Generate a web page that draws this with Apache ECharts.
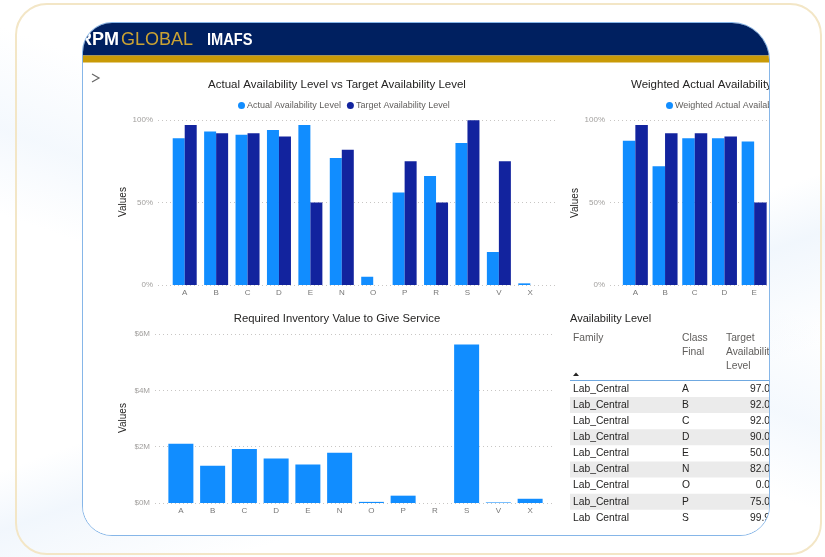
<!DOCTYPE html>
<html>
<head>
<meta charset="utf-8">
<script src="https://cdn.jsdelivr.net/npm/echarts@6/dist/echarts.min.js"></script>
<style>
  html, body { margin: 0; padding: 0; width: 825px; height: 557px; background: #ffffff; overflow: hidden; }
  #bg { position: absolute; left: 0; top: 0; width: 825px; height: 557px;
        background:
          linear-gradient(160deg, rgba(255,255,255,0) 55%, rgba(225,237,250,0.45) 62%, rgba(255,255,255,0) 75%),
          linear-gradient(20deg, rgba(255,255,255,0) 40%, rgba(228,239,251,0.4) 50%, rgba(255,255,255,0) 62%); }
  #outer { position: absolute; left: 15px; top: 3px; width: 807px; height: 552px; box-sizing: border-box;
           border: 2px solid #f3e6c6; border-radius: 32px; }
  #frame { position: absolute; left: 82px; top: 22px; width: 688px; height: 514px; box-sizing: border-box;
           border: 1px solid #86b6e8; border-radius: 30px 38px 30px 30px; overflow: hidden; background: #fff; }
  #chart { position: absolute; left: 0; top: 0; width: 686px; height: 512px; }
</style>
</head>
<body>
<div id="bg"></div>
<div id="outer"></div>
<div id="frame"><div id="chart"></div></div>
<script>
// ---------------- data ----------------
const categories = ['A', 'B', 'C', 'D', 'E', 'N', 'O', 'P', 'R', 'S', 'V', 'X'];
const actualLevel = [89, 93, 91, 94, 97, 77, 5, 56, 66, 86, 20, 1];
const targetLevel = [97, 92, 92, 90, 50, 82, 0, 75, 50, 99.9, 75, 0];

const weightedCategories = ['A', 'B', 'C', 'D', 'E'];
const weightedActual = [87.5, 72, 89, 89, 87];
const weightedTarget = [97, 92, 92, 90, 50];

const inventoryMillions = [2.10, 1.32, 1.92, 1.58, 1.37, 1.78, 0.04, 0.26, 0, 5.63, 0.02, 0.15];

const levelTicks = [0, 50, 100];          // shown as 0%, 50%, 100%
const inventoryTicks = [0, 2, 4, 6];      // shown as $0M ... $6M

const tableFamily = ['Lab_Central', 'Lab_Central', 'Lab_Central', 'Lab_Central', 'Lab_Central',
                     'Lab_Central', 'Lab_Central', 'Lab_Central', 'Lab_Central'];
const tableClass = ['A', 'B', 'C', 'D', 'E', 'N', 'O', 'P', 'S'];
const tableTarget = [97.0, 92.0, 92.0, 90.0, 50.0, 82.0, 0.0, 75.0, 99.9];

// ---------------- layout helpers ----------------
const OX = 83, OY = 23;               // page position of the chart canvas
const X = x => x - OX, Y = y => y - OY;
const FONT = '"Liberation Sans", Arial, sans-serif';
const LIGHT = '#118DFF', DARK = '#12239E';

const chart = echarts.init(document.getElementById('chart'));

const tickLabel = { fontFamily: FONT, fontSize: 8, color: '#a19f9d' };
const catLabel = { fontFamily: FONT, fontSize: 8, color: '#777777', margin: 4 };
const dotted = { show: true, lineStyle: { type: [1, 3], color: '#c8c6c4', width: 1 } };

function catAxis(gi, data) {
  return { gridIndex: gi, type: 'category', data: data, axisLine: { show: false }, axisTick: { show: false },
           axisLabel: catLabel };
}
function hiddenX(gi) { return { gridIndex: gi, type: 'value', min: 0, max: 1, show: false }; }
function hiddenY(gi, ticks) { return { gridIndex: gi, type: 'value', min: ticks[0], max: ticks[ticks.length - 1], show: false }; }
function shownY(gi, ticks, fmt) {
  return { gridIndex: gi, type: 'value', min: ticks[0], max: ticks[ticks.length - 1], interval: ticks[1] - ticks[0],
           axisLine: { show: false }, axisTick: { show: false }, splitLine: dotted,
           axisLabel: Object.assign({ margin: 5, formatter: fmt }, tickLabel) };
}
const pct = v => v + '%';
const money = v => '$' + v + 'M';

const legendBase = { icon: 'circle', itemWidth: 7, itemHeight: 7, itemGap: 6, selectedMode: false, width: 600,
                     textStyle: { fontFamily: FONT, fontSize: 9, color: '#605e5c', padding: [0, 0, 0, -3] } };

const graphics = [];
// header
graphics.push({ type: 'rect', shape: { x: -2, y: -2, width: 700, height: Y(55.5) + 2 }, style: { fill: '#002060' } });
graphics.push({ type: 'rect', shape: { x: -2, y: Y(55.5), width: 700, height: 7 }, style: { fill: '#c99a06' } });
graphics.push({ type: 'text', x: X(79), y: Y(40.5), style: { text: 'RPM', fill: '#ffffff', font: 'bold 18px ' + FONT, verticalAlign: 'middle' } });
graphics.push({ type: 'text', x: X(121), y: Y(40.5), style: { text: 'GLOBAL', fill: '#c9a233', font: '18px ' + FONT, verticalAlign: 'middle' } });
graphics.push({ type: 'text', x: X(207), y: Y(40.5), scaleX: 0.86, style: { text: 'IMAFS', fill: '#ffffff', font: 'bold 17px ' + FONT, verticalAlign: 'middle' } });
// collapse chevron
graphics.push({ type: 'polyline', shape: { points: [[X(92), Y(74)], [X(99), Y(78)], [X(92), Y(82)]] },
                style: { stroke: '#666666', lineWidth: 1.2, fill: null } });
// titles
function titleText(x, y, t, align, size) {
  graphics.push({ type: 'text', x: X(x), y: Y(y),
    style: { text: t, fill: '#252423', font: size + 'px ' + FONT, align: align, verticalAlign: 'middle' } });
}
titleText(337, 85, 'Actual Availability Level vs Target Availability Level', 'center', 11.5);
titleText(631, 85, 'Weighted Actual Availability Level vs Target Availability Level', 'left', 11.5);
titleText(337, 319, 'Required Inventory Value to Give Service', 'center', 11.3);
titleText(570, 319, 'Availability Level', 'left', 11);
// "Values" axis titles
function valuesText(x, y) {
  graphics.push({ type: 'text', x: X(x), y: Y(y), rotation: Math.PI / 2,
    style: { text: 'Values', fill: '#252423', font: '10px ' + FONT, align: 'center', verticalAlign: 'middle' } });
}
valuesText(123, 202);
valuesText(575, 203);
valuesText(123, 418);

// table
const headColor = '#605e5c';
const cellFont = '10.3px ' + FONT;
function headText(x, y, t) {
  graphics.push({ type: 'text', x: X(x), y: Y(y), style: { text: t, fill: headColor, font: cellFont, verticalAlign: 'middle' } });
}
headText(573, 338, 'Family');
headText(682, 338, 'Class');
headText(682, 352, 'Final');
headText(726, 338, 'Target');
headText(726, 352, 'Availability');
headText(726, 366, 'Level');
graphics.push({ type: 'polygon', shape: { points: [[X(573), Y(376)], [X(576), Y(372.5)], [X(579), Y(376)]] }, style: { fill: '#252423' } });
graphics.push({ type: 'rect', shape: { x: X(570), y: Y(380), width: 220, height: 1 }, style: { fill: '#6fa8e0' } });
for (let i = 0; i < tableClass.length; i++) {
  const top = 381 + i * 16.1;
  if (i % 2 === 1) {
    graphics.push({ type: 'rect', shape: { x: X(570), y: Y(top), width: 220, height: 16 }, style: { fill: '#ebebeb' } });
  }
  const cy = top + 8;
  graphics.push({ type: 'text', x: X(573), y: Y(cy), style: { text: tableFamily[i], fill: '#252423', font: cellFont, verticalAlign: 'middle' } });
  graphics.push({ type: 'text', x: X(682), y: Y(cy), style: { text: tableClass[i], fill: '#252423', font: cellFont, verticalAlign: 'middle' } });
  graphics.push({ type: 'text', x: X(770), y: Y(cy), style: { text: tableTarget[i].toFixed(1), fill: '#252423', font: cellFont, align: 'right', verticalAlign: 'middle' } });
}
graphics.push({ type: 'rect', z: 100, shape: { x: X(565), y: Y(522), width: 240, height: 30 }, style: { fill: '#ffffff' } });

const option = {
  animation: false,
  backgroundColor: '#ffffff',
  grid: [
    { left: X(169), top: Y(120), width: 377, height: 165 },
    { left: X(158), top: Y(120), width: 397, height: 165 },
    { left: X(620.5), top: Y(120), width: 155, height: 165 },
    { left: X(610), top: Y(120), width: 300, height: 165 },
    { left: X(165), top: Y(334), width: 381, height: 169 },
    { left: X(155), top: Y(334), width: 400, height: 169 }
  ],
  xAxis: [catAxis(0, categories), hiddenX(1), catAxis(2, weightedCategories), hiddenX(3), catAxis(4, categories), hiddenX(5)],
  yAxis: [hiddenY(0, levelTicks), shownY(1, levelTicks, pct), hiddenY(2, levelTicks), shownY(3, levelTicks, pct),
          hiddenY(4, inventoryTicks), shownY(5, inventoryTicks, money)],
  legend: [
    Object.assign({ data: ['Actual Availability Level', 'Target Availability Level'], left: X(233), top: Y(96) }, legendBase),
    Object.assign({ data: ['Weighted Actual Availability Level', 'Weighted Target Availability Level'], left: X(661), top: Y(96) }, legendBase)
  ],
  series: [
    { type: 'bar', name: 'Actual Availability Level', xAxisIndex: 0, yAxisIndex: 0, data: actualLevel,
      barWidth: 12, barGap: '0%', itemStyle: { color: LIGHT } },
    { type: 'bar', name: 'Target Availability Level', xAxisIndex: 0, yAxisIndex: 0, data: targetLevel,
      barWidth: 12, barGap: '0%', itemStyle: { color: DARK } },
    { type: 'bar', name: 'Weighted Actual Availability Level', xAxisIndex: 2, yAxisIndex: 2, data: weightedActual,
      barWidth: 12.5, barGap: '0%', itemStyle: { color: LIGHT } },
    { type: 'bar', name: 'Weighted Target Availability Level', xAxisIndex: 2, yAxisIndex: 2, data: weightedTarget,
      barWidth: 12.5, barGap: '0%', itemStyle: { color: DARK } },
    { type: 'bar', name: 'Required Inventory Value', xAxisIndex: 4, yAxisIndex: 4, data: inventoryMillions,
      barWidth: 25, itemStyle: { color: LIGHT } }
  ],
  graphic: graphics
};
chart.setOption(option);
</script>
</body>
</html>
